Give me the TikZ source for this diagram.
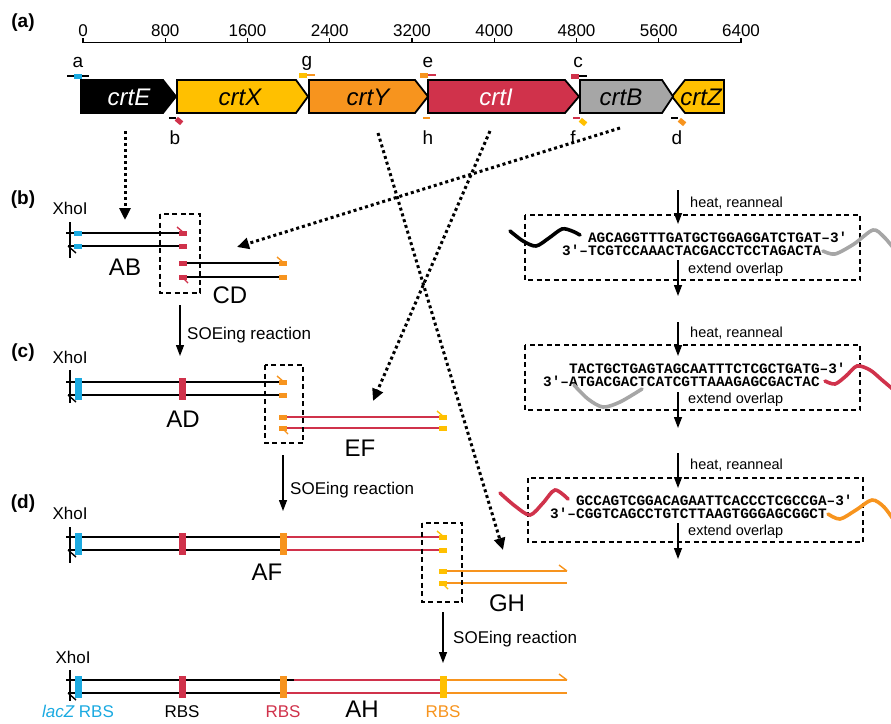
\documentclass[tikz,border=0pt]{standalone}
\usepackage{fontspec}
\setmainfont{Liberation Sans}
\newfontfamily\seqfont{Liberation Mono}
\usetikzlibrary{arrows.meta}
\definecolor{cyel}{RGB}{255,192,0}
\definecolor{corg}{RGB}{247,148,30}
\definecolor{cred}{RGB}{208,50,75}
\definecolor{cgry}{RGB}{166,166,166}
\definecolor{cblu}{RGB}{27,170,225}
\newcommand\myfs[1]{\fontsize{#1}{#1}\selectfont}
\newcommand\psq[3]{\fill[#1] (#2,#3) ++(-4,-2.5) rectangle ++(8,5);}
\newcommand\rbs[3]{\fill[#1] (#2,#3) ++(-3.5,-4.5) rectangle ++(7,22);}
\begin{document}
\begin{tikzpicture}[x=1pt,y=-1pt,
  every node/.style={inner sep=0pt},
  gene/.style={draw=black,line width=1.8pt,line join=miter},
  dna/.style={line width=1.6pt},
  tk/.style={line width=1.4pt},
  bar/.style={line width=1.1pt},
  dotarrow/.style={line width=3pt,dash pattern=on 3pt off 3pt,-{Triangle[width=11pt,length=12pt]}},
  solarrow/.style={line width=1.3pt,-{Triangle[width=8pt,length=11pt]}},
  dbox/.style={line width=1.2pt,dash pattern=on 5pt off 3.5pt},
  wave/.style={line width=3.6pt,line cap=round},
  panel/.style={font=\bfseries\myfs{19}},
  tlab/.style={font=\myfs{17}},
  plab/.style={font=\myfs{19},anchor=base},
  glab/.style={font=\itshape\myfs{24}},
  frag/.style={font=\myfs{24}},
  xho/.style={font=\myfs{17}},
  soe/.style={font=\myfs{17},anchor=base west},
  small/.style={font=\myfs{14.5},anchor=base west},
  sq/.style={font=\seqfont\bfseries\myfs{14.4},anchor=base west}]
\useasboundingbox (0,0) rectangle (891,723);

% ---------- (a) scale ----------
\node[panel] (pa) at (23,23) {(a)};
\draw[line width=1.3pt] (83,38) -- (83,42.5) -- (741,42.5) -- (741,38);
\foreach \i in {1,...,7} \draw[line width=1.3pt] (83+82.25*\i,42.5) -- ++(0,-4.5);
\foreach \i/\t in {0/0,1/800,2/1600,3/2400,4/3200,5/4000,6/4800,7/5600,8/6400}
  \node[tlab,anchor=base] (t\i) at (83+82.25*\i,36) {\t};

% ---------- genes ----------
\draw[gene,fill=cyel] (672,96.5) -- (685,80) -- (724,80) -- (724,113) -- (685,113) -- cycle;
\draw[gene,fill=cgry] (580,80) -- (662,80) -- (673,96.5) -- (662,113) -- (580,113) -- cycle;
\draw[gene,fill=cred] (428,80) -- (565,80) -- (579,96.5) -- (565,113) -- (428,113) -- cycle;
\draw[gene,fill=corg] (309,80) -- (415,80) -- (428,96.5) -- (415,113) -- (309,113) -- cycle;
\draw[gene,fill=cyel] (177,80) -- (296,80) -- (308,96.5) -- (296,113) -- (177,113) -- cycle;
\draw[gene,fill=black] (81,80) -- (163,80) -- (176,96.5) -- (163,113) -- (81,113) -- cycle;
\node[glab,text=white] (gE) at (129,97) {crtE};
\node[glab] (gX) at (240,97) {crtX};
\node[glab] (gY) at (368,97) {crtY};
\node[glab,text=white] (gI) at (496,97) {crtI};
\node[glab] (gB) at (621,97) {crtB};
\node[glab] (gZ) at (701,97) {crtZ};

% ---------- primers on map ----------
\draw[tk] (67,76) -- (89,76); \psq{cblu}{78}{76}
\draw[tk] (169,118) -- (176,118);
\node[fill=cred,minimum width=7pt,minimum height=5pt,rotate=-40] (mb) at (179,121) {};
\draw[tk,corg] (306,75) -- (315,75); \psq{cyel}{303}{75}
\draw[tk,cred] (427,75) -- (436,75); \psq{corg}{424}{75}
\draw[tk,corg] (423,118) -- (430,118);
\draw[tk] (578,76) -- (587,76); \psq{cred}{575}{76}
\draw[tk,cred] (573,118) -- (580,118);
\node[fill=cyel,minimum width=7pt,minimum height=5pt,rotate=-40] (mf) at (583,122) {};
\draw[tk] (671,118) -- (678,118);
\node[fill=corg,minimum width=7pt,minimum height=5pt,rotate=-40] (md) at (682,122) {};
\node[plab] (la) at (78,67) {a};
\node[plab] (lb) at (175,144) {b};
\node[plab] (lg) at (307,66) {g};
\node[plab] (le) at (428,67) {e};
\node[plab] (lh) at (428,144) {h};
\node[plab] (lc) at (578,67) {c};
\node[plab] (lf) at (573,144) {f};
\node[plab] (ld) at (677,144) {d};

% ---------- (b) ----------
\node[panel] (pb) at (23,200) {(b)};
\node[xho] (x1) at (70,208) {XhoI};
\draw[dna] (66,233) -- (182,233);
\draw[dna] (68,246) -- (182,246);
\draw[dna] (182,263) -- (283,263);
\draw[dna] (182,277) -- (283,277);
\draw[bar] (70,222) -- (70,258);
\draw[tk] (68,246) -- (76,253);
\psq{cblu}{78}{233} \psq{cblu}{78}{246}
\psq{cred}{183}{233} \psq{cred}{183}{246}
\psq{cred}{183}{263} \psq{cred}{183}{277}
\psq{corg}{283}{263} \psq{corg}{283}{277}
\draw[tk,cred] (184,233) -- (177,227);
\draw[tk,corg] (284,263) -- (277,257);
\draw[tk,cred] (182,277) -- (188,283);
\draw[dbox] (160,214) rectangle (200,293);
\node[frag] (AB) at (125,267) {AB};
\node[frag] (CD) at (230,295) {CD};
\coordinate (s1a) at (180,305); \coordinate (s1b) at (180,356);
\draw[solarrow] (s1a) -- (s1b);
\node[soe] (soe1) at (187,339) {SOEing reaction};

% ---------- (c) ----------
\node[panel] (pc) at (23,353) {(c)};
\node[xho] (x2) at (70,357.5) {XhoI};
\draw[dna] (66,382) -- (283,382);
\draw[dna] (68,395) -- (283,395);
\draw[dna,cred] (283,417) -- (443,417);
\draw[dna,cred] (283,428) -- (443,428);
\draw[bar] (70,370) -- (70,403);
\draw[tk] (68,395) -- (76,402);
\rbs{cblu}{78}{382} \rbs{cred}{182}{382}
\psq{corg}{283}{382} \psq{corg}{283}{395}
\psq{corg}{283}{417} \psq{corg}{283}{428}
\psq{cyel}{443}{417} \psq{cyel}{443}{428}
\draw[tk,corg] (284,382) -- (277,376);
\draw[tk,cyel] (444,417) -- (437,411);
\draw[tk,corg] (282,428) -- (288,434);
\draw[dbox] (265,365) rectangle (303,443);
\node[frag] (AD) at (183,419) {AD};
\node[frag] (EF) at (360,448) {EF};
\coordinate (s2a) at (283,455); \coordinate (s2b) at (283,511);
\draw[solarrow] (s2a) -- (s2b);
\node[soe] (soe2) at (290,494) {SOEing reaction};

% ---------- (d) ----------
\node[panel] (pd) at (23,504) {(d)};
\node[xho] (x3) at (70,513) {XhoI};
\draw[dna] (66,537) -- (283,537);
\draw[dna] (68,550) -- (283,550);
\draw[dna,cred] (283,537) -- (443,537);
\draw[dna,cred] (283,550) -- (443,550);
\draw[dna,corg] (443,571) -- (567,571);
\draw[dna,corg] (443,583) -- (567,583);
\draw[bar] (70,527) -- (70,563);
\draw[tk] (68,550) -- (76,557);
\rbs{cblu}{78}{537} \rbs{cred}{182}{537} \rbs{corg}{283}{537}
\psq{cyel}{443}{537} \psq{cyel}{443}{550}
\psq{cyel}{443}{571} \psq{cyel}{443}{583}
\draw[tk,cyel] (444,537) -- (437,531);
\draw[tk,cyel] (442,583) -- (448,589);
\draw[tk,corg] (567,571) -- (559,565);
\draw[dbox] (422,523) rectangle (462,602);
\node[frag] (AF) at (267,572) {AF};
\node[frag] (GH) at (507,603.5) {GH};
\coordinate (s3a) at (443,612); \coordinate (s3b) at (443,663);
\draw[solarrow] (s3a) -- (s3b);
\node[soe] (soe3) at (453,643) {SOEing reaction};

% ---------- final ----------
\node[xho] (x4) at (73,657) {XhoI};
\draw[dna,cred] (283,680) -- (443,680);
\draw[dna,cred] (283,693) -- (443,693);
\draw[dna,corg] (443,680) -- (567,680);
\draw[dna,corg] (443,693) -- (567,693);
\draw[dna] (66,680) -- (294,680);
\draw[dna] (68,693) -- (283,693);
\draw[bar] (70,670) -- (70,701);
\draw[tk] (68,693) -- (76,700);
\rbs{cblu}{78}{680} \rbs{cred}{182}{680} \rbs{corg}{283}{680} \rbs{cyel}{443}{680}
\draw[tk,corg] (567,680) -- (559,674);
\node[font=\myfs{17},text=cblu] (r1) at (78,711.5) {\itshape lacZ\upshape{} RBS};
\node[font=\myfs{17}] (r2) at (182,711.5) {RBS};
\node[font=\myfs{17},text=cred] (r3) at (283,711.5) {RBS};
\node[font=\myfs{17},text=corg] (r4) at (443,711.5) {RBS};
\node[frag] (AH) at (362,709) {AH};

% ---------- dotted connectors ----------
\coordinate (pE) at (125,131); \coordinate (pAB) at (125,220);
\coordinate (pB) at (620,128); \coordinate (pCD) at (237,247);
\coordinate (pI) at (490,131); \coordinate (pEF) at (373,401);
\coordinate (pY) at (378,133); \coordinate (pGH) at (503,550);
\draw[dotarrow] (pE) -- (pAB);
\draw[dotarrow] (pB) -- (pCD);
\draw[dotarrow] (pI) -- (pEF);
\draw[dotarrow] (pY) -- (pGH);

% ---------- right panels ----------
% panel 1
\coordinate (h1a) at (678,190); \coordinate (h1b) at (678,224);
\coordinate (e1a) at (678,260); \coordinate (e1b) at (678,296);
\draw[solarrow] (h1a) -- (h1b);
\draw[solarrow] (e1a) -- (e1b);
\node[small] (ht1) at (690,207.5) {heat, reanneal};
\node[small] (ex1) at (688,273) {extend overlap};
\draw[dbox] (525,215) rectangle (860,280);
\node[sq] (q1a) at (587.9,242) {AGCAGGTTTGATGCTGGAGGATCTGAT–3′};
\node[sq] (q1b) at (562,255) {3′–TCGTCCAAACTACGACCTCCTAGACTA};
\draw[wave] plot[smooth] coordinates {(510,231) (523,241) (536,246) (549,238) (562,229) (572,231) (580,235)};
\draw[wave,cgry] plot[smooth] coordinates {(823,251) (835,254) (854,244) (873,230) (884,237) (895,250)};
% panel 2
\coordinate (h2a) at (678,322); \coordinate (h2b) at (678,356);
\coordinate (e2a) at (678,392); \coordinate (e2b) at (678,428);
\draw[solarrow] (h2a) -- (h2b);
\draw[solarrow] (e2a) -- (e2b);
\node[small] (ht2) at (690,337) {heat, reanneal};
\node[small] (ex2) at (688,403) {extend overlap};
\draw[dbox] (525,345) rectangle (860,410);
\node[sq] (q2a) at (568.9,373.5) {TACTGCTGAGTAGCAATTTCTCGCTGATG–3′};
\node[sq] (q2b) at (543,386.5) {3′–ATGACGACTCATCGTTAAAGAGCGACTAC};
\draw[wave,cgry] plot[smooth] coordinates {(574,385) (588,399) (603,407) (620,402) (642,389)};
\draw[wave,cred] plot[smooth] coordinates {(825,381) (835,384) (846,376) (857,366) (870,370) (882,380) (895,391)};
% panel 3
\coordinate (h3a) at (678,453); \coordinate (h3b) at (678,488);
\coordinate (e3a) at (678,523); \coordinate (e3b) at (678,559);
\draw[solarrow] (h3a) -- (h3b);
\draw[solarrow] (e3a) -- (e3b);
\node[small] (ht3) at (690,469) {heat, reanneal};
\node[small] (ex3) at (688,535) {extend overlap};
\draw[dbox] (528,478) rectangle (863,542);
\node[sq] (q3a) at (575.9,505) {GCCAGTCGGACAGAATTCACCCTCGCCGA–3′};
\node[sq] (q3b) at (550,518) {3′–CGGTCAGCCTGTCTTAAGTGGGAGCGGCT};
\draw[wave,cred] plot[smooth] coordinates {(500,493) (515,506) (530,515) (543,503) (555,490) (568,499)};
\draw[wave,corg] plot[smooth] coordinates {(828,514) (840,519) (856,510) (872,500) (884,507) (895,522)};
\end{tikzpicture}
\end{document}
